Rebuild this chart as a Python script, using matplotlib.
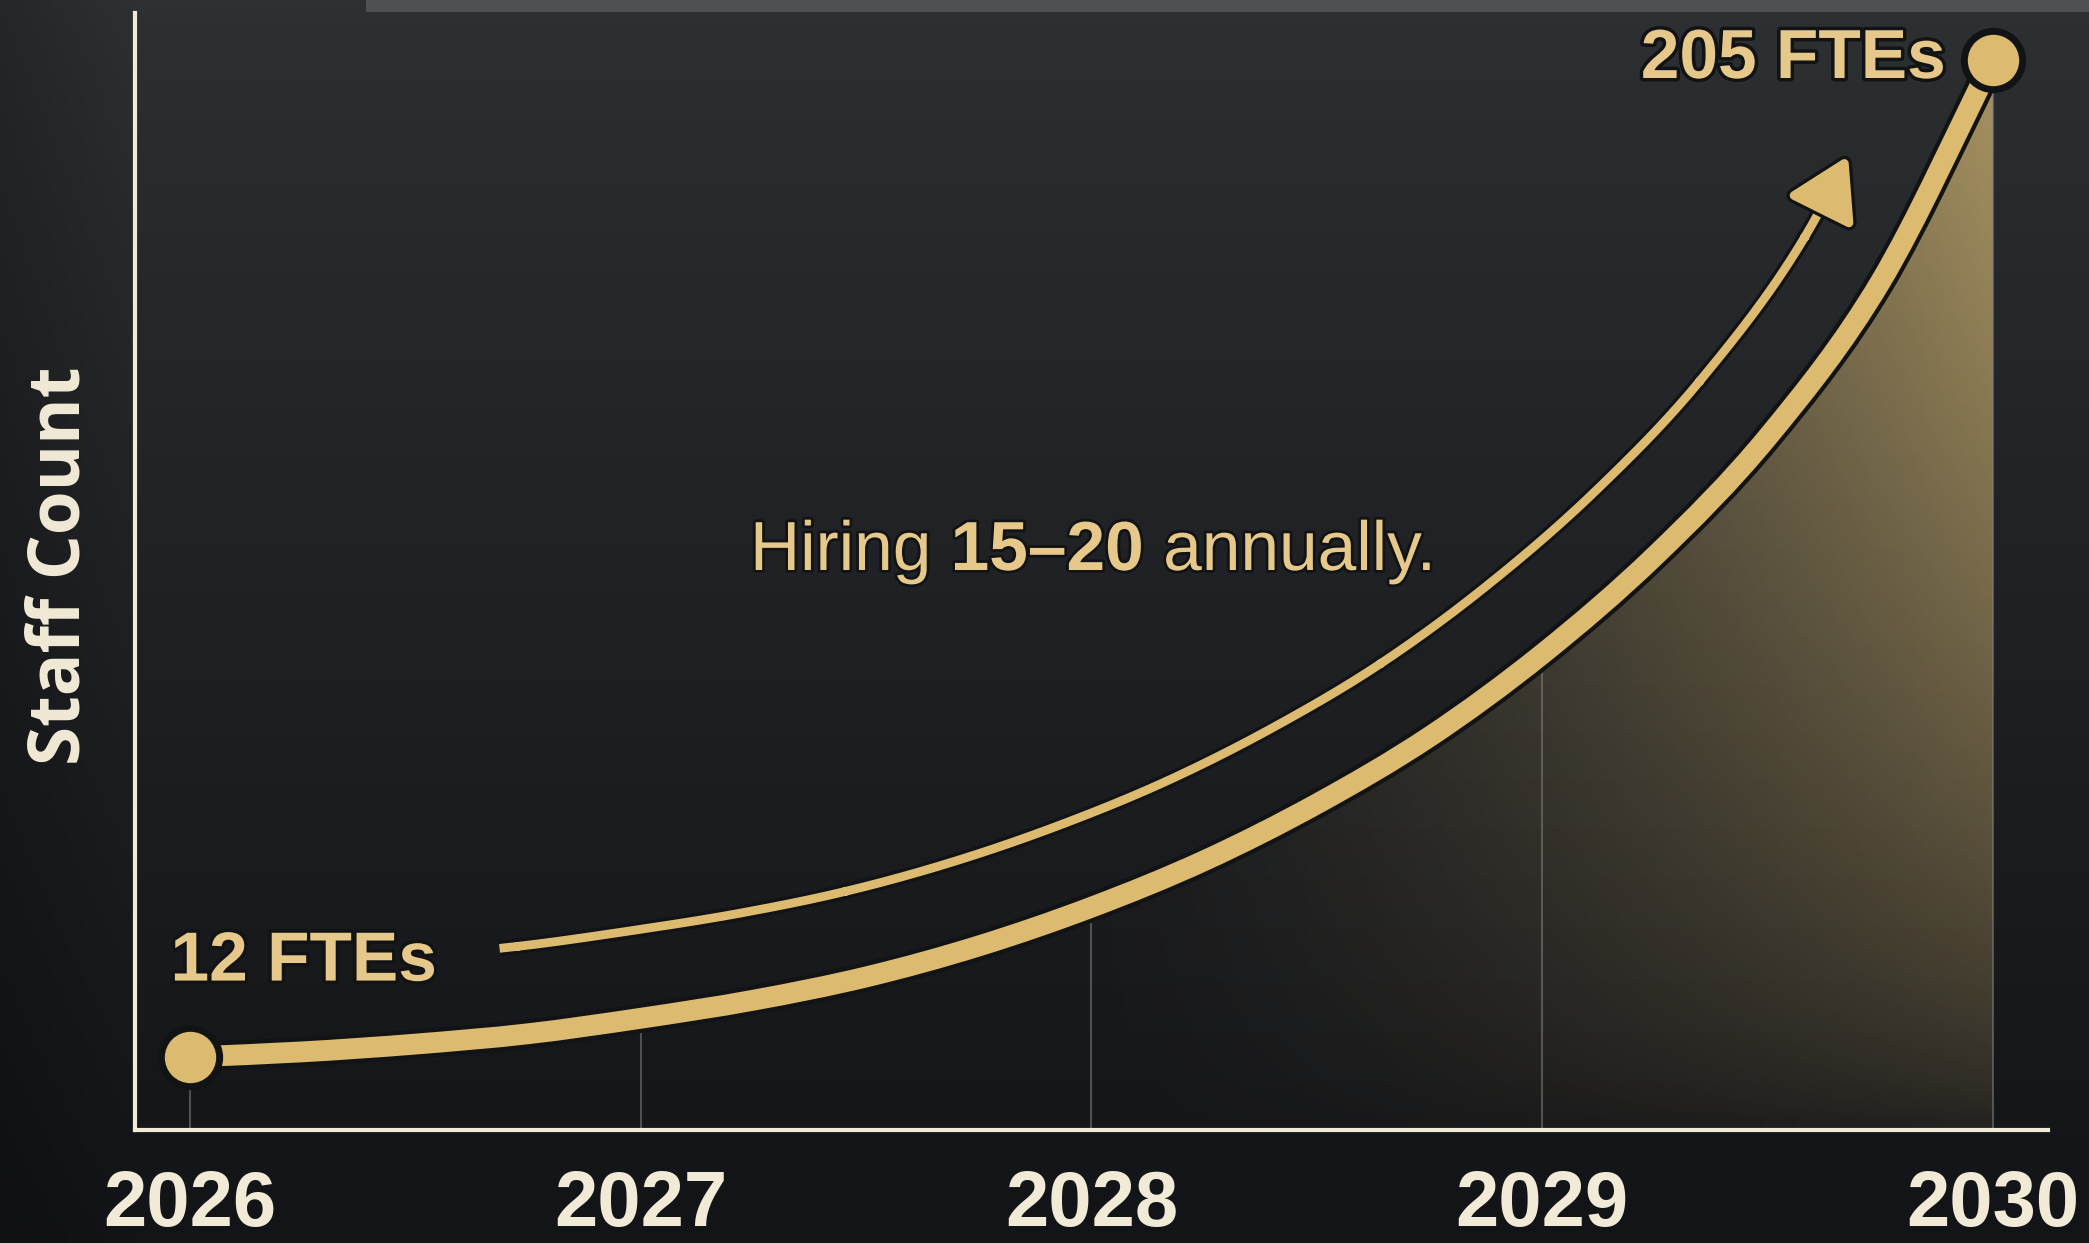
import numpy as np
import matplotlib
matplotlib.use("Agg")
import matplotlib.pyplot as plt
import matplotlib.patheffects as pe
from matplotlib.path import Path
from matplotlib.patches import FancyArrowPatch, PathPatch
from matplotlib.transforms import IdentityTransform

# years shown on the x axis
years = [2026, 2027, 2028, 2029, 2030]
year_labels = ['2026', '2027', '2028', '2029', '2030']

# staff count every quarter year
t_q = [2026.0, 2026.25, 2026.5, 2026.75, 2027.0, 2027.25, 2027.5, 2027.75,
       2028.0, 2028.25, 2028.5, 2028.75, 2029.0, 2029.25, 2029.5, 2029.75, 2030.0]
staff = [12, 13, 14.5, 16.5, 19.5, 23, 27.5, 33.5, 41, 50, 61, 74, 90, 109, 132, 162, 205]

start_label = '12 FTEs'
end_label = '205 FTEs'
note_parts = [('Hiring ', 'normal'), ('15\u201320', 'bold'), (' annually.', 'normal')]
arrow_span = (2026.68, 2029.68)   # where the hiring arrow starts / ends along x

# colours
gold = '#dcba6f'
text_gold = '#e6c98a'
cream = '#f0ead6'
dark = '#121315'

plt.rcParams['font.family'] = ['Liberation Sans', 'DejaVu Sans']


def smooth_path(pts):
    """Catmull-Rom curve through the points, as cubic Bezier segments."""
    pts = np.asarray(pts, float)
    ext = np.vstack([2 * pts[0] - pts[1], pts, 2 * pts[-1] - pts[-2]])
    verts, codes = [pts[0]], [Path.MOVETO]
    for i in range(len(pts) - 1):
        p0, p1, p2, p3 = ext[i], ext[i + 1], ext[i + 2], ext[i + 3]
        verts += [p1 + (p2 - p0) / 6, p2 - (p3 - p1) / 6, p2]
        codes += [Path.CURVE4] * 3
    return Path(verts, codes)


W, H = 2089, 1243
fig = plt.figure(figsize=(W / 100, H / 100), dpi=100)

# background: dark concrete-ish gradient
bg = fig.add_axes([0, 0, 1, 1], zorder=-10)
bg.axis('off')
yy = np.linspace(0, 1, 300)[:, None]   # 0 = top
xx = np.linspace(0, 1, 400)[None, :]
top = np.array([46, 49, 52]) / 255
bot = np.array([19, 20, 23]) / 255
k = (yy ** 0.8)[..., None]
img = top * (1 - k) + bot * k
img = img * (0.8 + 0.2 * np.clip(xx / 0.065, 0, 1))[..., None]
img = np.broadcast_to(img, (300, 400, 3)).copy()
img[:3, 70:, :] = np.array([78, 80, 82]) / 255   # lighter strip at the top edge
bg.imshow(img, extent=[0, 1, 0, 1], aspect='auto', origin='upper')
bg.set_xlim(0, 1)
bg.set_ylim(0, 1)

# main axes
x0, x1 = 2025.878, 2030.122
y0, y1 = -2.13, 214.1
ax = fig.add_axes([135 / W, 113 / H, (2048 - 135) / W, (1130 - 13) / H])
ax.set_facecolor('none')
ax.set_xlim(x0, x1)
ax.set_ylim(y0, y1)

# gradient fill under the curve
gx = np.linspace(2026, 2030, 400)
gy = np.linspace(y0, 205, 300)
GX, GY = np.meshgrid(gx, gy)
fx = np.clip((GX - 2027.85) / 2.15, 0, 1)
fy = np.clip(GY / 205, 0, 1)
alpha = 0.78 * fx ** 1.5 * (0.12 + 0.88 * fy ** 0.7)
rgba = np.zeros(GX.shape + (4,))
rgba[..., 0] = 202 / 255
rgba[..., 1] = 174 / 255
rgba[..., 2] = 110 / 255
rgba[..., 3] = alpha
im = ax.imshow(rgba, extent=[2026, 2030, y0, 205], origin='lower',
               aspect='auto', zorder=1)
poly = ax.fill_between(t_q, staff, y0, color='none', lw=0)
im.set_clip_path(poly.get_paths()[0], transform=ax.transData)
ax.set_xlim(x0, x1)
ax.set_ylim(y0, y1)

# thin year lines under the curve
ax.vlines(years, y0, staff[::4], color='#808080', lw=1.5, alpha=0.55, zorder=1.5)

# main growth curve, drawn smooth through the quarter-year readings
curve = smooth_path(np.column_stack([t_q, staff]))
ax.add_patch(PathPatch(curve, fill=False, edgecolor=gold, lw=15,
                       capstyle='butt', joinstyle='round', zorder=4,
                       path_effects=[pe.Stroke(linewidth=21, foreground=dark),
                                     pe.Normal()]))
ax.plot([t_q[0], t_q[-1]], [staff[0], staff[-1]], 'o', ms=42, mfc=gold,
        mec=dark, mew=5, zorder=5)

# hiring arrow: the curve shifted sideways (up-left) in pixel space
curve_px = ax.transData.transform_path(curve)
D = np.vstack([seg(np.linspace(0, 1, 30)) for seg, code in curve_px.iter_bezier()
               if code != Path.MOVETO])
d = np.gradient(D, axis=0)
d = d / np.hypot(d[:, 0], d[:, 1])[:, None]
Q = D + 88 * np.column_stack([-d[:, 1], d[:, 0]])
xa = ax.transData.transform([(arrow_span[0], 0), (arrow_span[1], 0)])[:, 0]
Q = Q[(Q[:, 0] >= xa[0]) & (Q[:, 0] <= xa[1])]
arr = FancyArrowPatch(path=Path(Q), transform=IdentityTransform(),
                      arrowstyle='-|>,head_length=0.4,head_width=0.24',
                      mutation_scale=92, color=gold, lw=6.3, zorder=3,
                      joinstyle='round', capstyle='butt',
                      path_effects=[pe.withStroke(linewidth=11, foreground=dark)])
ax.add_patch(arr)

# end labels
stroke = [pe.withStroke(linewidth=5, foreground=dark)]
ax.annotate(start_label, xy=(t_q[0], staff[0]), xytext=(-14, 68),
            textcoords='offset points', ha='left', va='center',
            fontsize=50, fontweight='bold', color=text_gold,
            path_effects=stroke, zorder=6)
ax.annotate(end_label, xy=(t_q[-1], staff[-1]), xytext=(-34, 0),
            textcoords='offset points', ha='right', va='center',
            fontsize=50, fontweight='bold', color=text_gold,
            path_effects=stroke, zorder=6)

# spines and ticks
for s in ['top', 'right']:
    ax.spines[s].set_visible(False)
for s in ['left', 'bottom']:
    ax.spines[s].set_color(cream)
    ax.spines[s].set_linewidth(3)
ax.set_yticks([])
ax.set_xticks(years, year_labels, fontweight='bold')
ax.tick_params(axis='x', length=0, pad=28, labelsize=56, labelcolor=cream)

fig.text(61 / W, 1 - 566 / H, 'Staff Count', rotation=90, ha='center',
         va='center', fontsize=51, fontweight='bold', color=cream,
         family=['Open Sans', 'DejaVu Sans'])

# note text with a bold middle part, placed piece by piece on one baseline
fig.canvas.draw()
renderer = fig.canvas.get_renderer()
nx = 750 / W
ny = 1 - 570 / H
for txt, wt in note_parts:
    t = fig.text(nx, ny, txt, ha='left', va='baseline', fontsize=50,
                 fontweight=wt, color=text_gold, zorder=6,
                 path_effects=[pe.withStroke(linewidth=4, foreground=dark)])
    bb = t.get_window_extent(renderer)
    nx = bb.x1 / W

fig.savefig('out.png', dpi=100)
